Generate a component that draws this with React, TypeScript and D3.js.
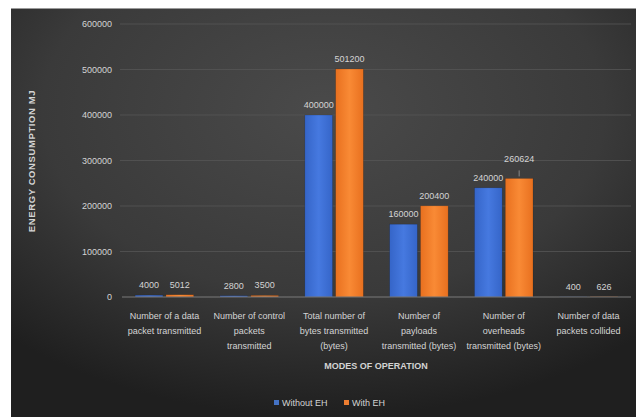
import React, { useEffect } from "react";
import * as d3 from "d3";

const categories: string[][] = [
  ["Number of a data", "packet transmitted"],
  ["Number of control", "packets", "transmitted"],
  ["Total number of", "bytes transmitted", "(bytes)"],
  ["Number of", "payloads", "transmitted (bytes)"],
  ["Number of", "overheads", "transmitted (bytes)"],
  ["Number of data", "packets collided"],
];
const seriesNames = ["Without EH", "With EH"];
const withoutEH = [4000, 2800, 400000, 160000, 240000, 400];
const withEH = [5012, 3500, 501200, 200400, 260624, 626];
const yTicks = [0, 100000, 200000, 300000, 400000, 500000, 600000];

const W = 636;
const H = 417;
const FONT = "'Liberation Sans', Arial, sans-serif";
const TEXT = "#d4d4d4";

export default function App() {
  useEffect(() => {
    document.body.style.margin = "0";
  }, []);

  const keys = categories.map((c) => c.join(" "));
  const x = d3.scaleBand<string>().domain(keys).range([122, 631]).paddingInner(0.31).paddingOuter(0.155);
  const xs = d3.scaleBand<string>().domain(seriesNames).range([0, x.bandwidth()]).paddingInner(0.1);
  const y = d3.scaleLinear().domain([0, 600000]).range([297, 24]);
  const series = [withoutEH, withEH];
  const fills = ["url(#gBlue)", "url(#gOrange)"];
  const legendColors = ["#4472C4", "#ED7D31"];

  return (
    <svg width={W} height={H} style={{ display: "block", background: "#fff" }} fontFamily={FONT}>
      <defs>
        <radialGradient id="bg" cx="0.5" cy="0.25" r="0.75">
          <stop offset="0" stopColor="#4a4a4a" />
          <stop offset="0.6" stopColor="#3a3a3a" />
          <stop offset="1" stopColor="#1f1f1f" />
        </radialGradient>
        <linearGradient id="gBlue" x1="0" x2="1" y1="0" y2="0">
          <stop offset="0" stopColor="#3565c8" />
          <stop offset="0.5" stopColor="#4679e0" />
          <stop offset="1" stopColor="#3565c8" />
        </linearGradient>
        <linearGradient id="gOrange" x1="0" x2="1" y1="0" y2="0">
          <stop offset="0" stopColor="#e8701f" />
          <stop offset="0.5" stopColor="#f98a35" />
          <stop offset="1" stopColor="#e8701f" />
        </linearGradient>
      </defs>
      <rect x={11} y={8} width={W - 11} height={H - 8} fill="url(#bg)" />
      <line x1={11} x2={W} y1={8.5} y2={8.5} stroke="#9a9a9a" strokeWidth={1} />

      {/* gridlines and y tick labels */}
      {yTicks.map((t) => (
        <g key={t}>
          {t > 0 && (
            <line x1={120} x2={631} y1={y(t)} y2={y(t)} stroke="#555" strokeWidth={0.8} />
          )}
          <text x={112} y={y(t)} dy="0.35em" textAnchor="end" fontSize={9} fill={TEXT}>
            {t}
          </text>
        </g>
      ))}

      {/* bars */}
      {keys.map((k, i) => (
        <g key={k} transform={`translate(${x(k)},0)`}>
          {seriesNames.map((s, j) => {
            const v = series[j][i];
            const bx = xs(s)!;
            const bw = xs.bandwidth();
            const top = y(v);
            const lift = v === 260624 ? 9 : 0;
            return (
              <g key={s}>
                <rect x={bx} y={top} width={bw} height={y(0) - top} fill={fills[j]} stroke="rgba(0,0,0,0.25)" strokeWidth={0.6} />
                {lift > 0 && (
                  <line x1={bx + bw / 2} x2={bx + bw / 2} y1={top - 2} y2={top - lift + 1} stroke="#aaa" strokeWidth={0.7} />
                )}
                <text x={bx + bw / 2} y={top - 7 - lift} textAnchor="middle" fontSize={9} fill={TEXT}>
                  {v}
                </text>
              </g>
            );
          })}
        </g>
      ))}

      {/* x axis line */}
      <line x1={122} x2={631} y1={y(0)} y2={y(0)} stroke="#7a7a7a" strokeWidth={1} />

      {/* category labels */}
      {categories.map((lines, i) => (
        <text key={i} x={x(keys[i])! + x.bandwidth() / 2} y={319} textAnchor="middle" fontSize={9} fill={TEXT}>
          {lines.map((l, li) => (
            <tspan key={li} x={x(keys[i])! + x.bandwidth() / 2} dy={li === 0 ? 0 : 15}>
              {l}
            </tspan>
          ))}
        </text>
      ))}

      {/* axis titles */}
      <text x={376} y={369} textAnchor="middle" fontSize={9} fontWeight="bold" fill={TEXT}>
        MODES OF OPERATION
      </text>
      <text
        transform="translate(35,161) rotate(-90)"
        textAnchor="middle"
        fontSize={9.5}
        fontWeight="bold"
        fill={TEXT}
        letterSpacing={0.6}
      >
        ENERGY CONSUMPTION MJ
      </text>

      {/* legend */}
      {seriesNames.map((s, j) => {
        const lx = [274, 344][j];
        return (
          <g key={s}>
            <rect x={lx} y={400} width={5} height={5} fill={legendColors[j]} />
            <text x={lx + 8} y={403} dy="0.35em" fontSize={9} fill={TEXT}>
              {s}
            </text>
          </g>
        );
      })}
    </svg>
  );
}
